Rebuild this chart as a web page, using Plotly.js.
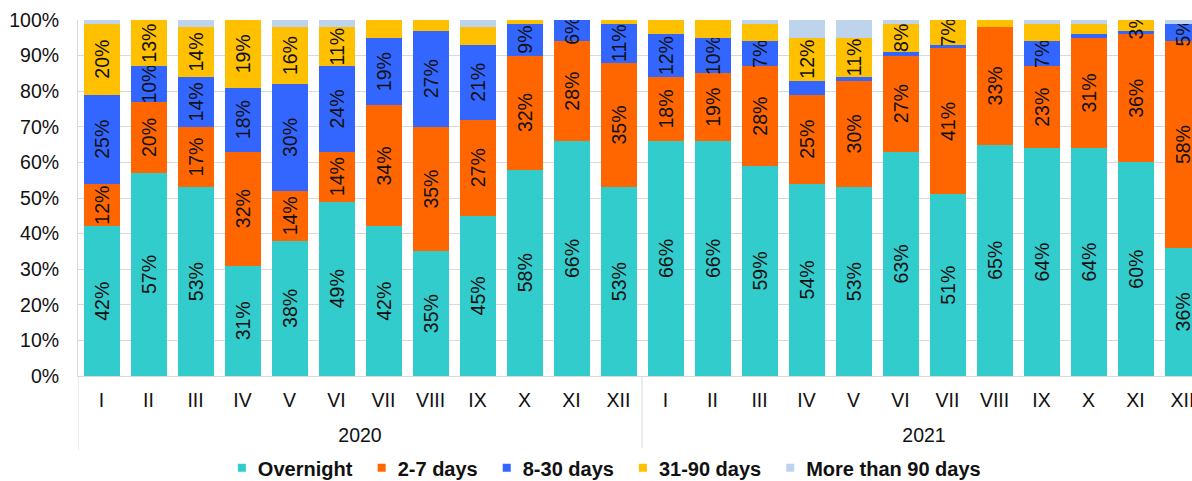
<!DOCTYPE html>
<html>
<head>
<meta charset="utf-8">
<script src="https://cdn.plot.ly/plotly-3.0.1.min.js"></script>
<style>
  html, body { margin: 0; padding: 0; background: #fff; overflow: hidden; }
  #chart { width: 1210px; height: 481px; }
</style>
</head>
<body>
<div id="chart"></div>
<script>
// Category axis: months (roman numerals) grouped by year
const years = ['2020', '2021'];
const months = ['I', 'II', 'III', 'IV', 'V', 'VI', 'VII', 'VIII', 'IX', 'X', 'XI', 'XII'];

// Share of each maturity bucket, %
const overnight = [42, 57, 53, 31, 38, 49, 42, 35, 45, 58, 66, 53,
                   66, 66, 59, 54, 53, 63, 51, 65, 64, 64, 60, 36];
const days2to7  = [12, 20, 17, 32, 14, 14, 34, 35, 27, 32, 28, 35,
                   18, 19, 28, 25, 30, 27, 41, 33, 23, 31, 36, 58];
const days8to30 = [25, 10, 14, 18, 30, 24, 19, 27, 21, 9, 6, 11,
                   12, 10, 7, 4, 1, 1, 1, 0, 7, 1, 1, 5];
const days31to90 = [20, 13, 14, 19, 16, 11, 5, 3, 5, 1, 0.5, 1,
                    4, 5, 5, 12, 11, 8, 7, 2, 5, 3, 3, 0];
const over90    = [1, 0, 2, 0, 2, 2, 0, 0, 2, 0, 0, 0,
                   0, 0, 1, 5, 5, 1, 0, 0, 1, 1, 0, 1];

// Months (0-23) whose segment carries no value label
const unlabelled8to30 = [15, 16, 17, 18, 19, 21, 22];
const unlabelled31to90 = [6, 7, 8, 9, 10, 11, 12, 13, 14, 19, 20, 21, 23];

// One category key per month, shown with its roman numeral
const keys = [], monthText = [];
years.forEach(y => months.forEach(m => { keys.push(y + ' ' + m); monthText.push(m); }));
const nMonths = keys.length;
const yearCentres = years.map((y, i) => i * months.length + (months.length - 1) / 2);

function labels(vals, skip, all) {
  return vals.map((v, i) => (all || skip.indexOf(i) < 0) ? v + '%' : '');
}

const series = [
  {name: 'Overnight',         y: overnight,  color: '#33cccc', text: labels(overnight, [], true)},
  {name: '2-7 days',          y: days2to7,   color: '#ff6600', text: labels(days2to7, [], true)},
  {name: '8-30 days',         y: days8to30,  color: '#3366ff', text: labels(days8to30, unlabelled8to30)},
  {name: '31-90 days',        y: days31to90, color: '#ffc000', text: labels(days31to90, unlabelled31to90)},
  {name: 'More than 90 days', y: over90,     color: '#bdd4ec', text: over90.map(() => '')}
];

const FONT = 'Liberation Sans, Arial, sans-serif';
const GRID = '#d9d9d9';

const traces = series.map(s => ({
  type: 'bar',
  name: s.name,
  x: keys,
  y: s.y,
  text: s.text,
  texttemplate: '%{text}',
  textposition: 'inside',
  insidetextanchor: 'middle',
  textangle: -90,
  constraintext: 'none',
  textfont: {family: FONT, size: 19.5, color: '#111'},
  marker: {color: s.color, line: {width: 0}},
  hoverinfo: 'skip'
}));

// Group separators below the axis, between years and at both ends
const dividers = [];
for (let i = 0; i <= years.length; i++) {
  const xPos = i * months.length - 0.5;
  dividers.push({
    type: 'line', xref: 'x2', yref: 'paper',
    x0: xPos, x1: xPos, y0: -0.208, y1: 0,
    line: {color: GRID, width: 1}
  });
}

const layout = {
  barmode: 'stack',
  bargap: 0.234,
  width: 1210,
  height: 481,
  margin: {l: 78, r: 4, t: 20, b: 105, autoexpand: false},
  paper_bgcolor: '#fff',
  plot_bgcolor: '#fff',
  font: {family: FONT, size: 19.5, color: '#111'},
  showlegend: true,
  legend: {
    orientation: 'h',
    x: 0.124, xanchor: 'left',
    y: -0.258, yanchor: 'middle',
    font: {family: FONT, size: 20, color: '#111', weight: 'bold'},
    traceorder: 'normal',
    itemclick: false
  },
  xaxis: {
    type: 'category',
    range: [-0.5, nMonths - 0.5],
    tickvals: keys,
    ticktext: monthText,
    showline: true,
    linecolor: GRID,
    linewidth: 1,
    showgrid: false,
    ticks: '',
    automargin: false,
    ticklabelstandoff: 7,
    tickfont: {family: FONT, size: 19.5, color: '#111'}
  },
  // year labels under the month labels
  xaxis2: {
    type: 'linear',
    overlaying: 'x',
    anchor: 'y',
    side: 'bottom',
    range: [-0.5, nMonths - 0.5],
    tickvals: yearCentres,
    ticktext: years,
    showline: false,
    showgrid: false,
    zeroline: false,
    ticks: '',
    automargin: false,
    ticklabelstandoff: 45,
    tickfont: {family: FONT, size: 19.5, color: '#111'}
  },
  yaxis: {
    range: [0, 100],
    dtick: 10,
    ticksuffix: '%',
    showgrid: true,
    gridcolor: GRID,
    gridwidth: 1,
    showline: true,
    linecolor: GRID,
    zeroline: false,
    ticks: '',
    automargin: false,
    ticklabelstandoff: 14,
    tickfont: {family: FONT, size: 19.5, color: '#111'}
  },
  shapes: dividers
};

Plotly.newPlot('chart', traces, layout, {staticPlot: true, displayModeBar: false}).then(() => {
  // smaller square legend swatches, set a little closer to their text
  document.querySelectorAll('.legend .legendpoints path').forEach(p => {
    p.setAttribute('d', 'M8,4H0V-4H8Z');
  });
});
</script>
</body>
</html>
